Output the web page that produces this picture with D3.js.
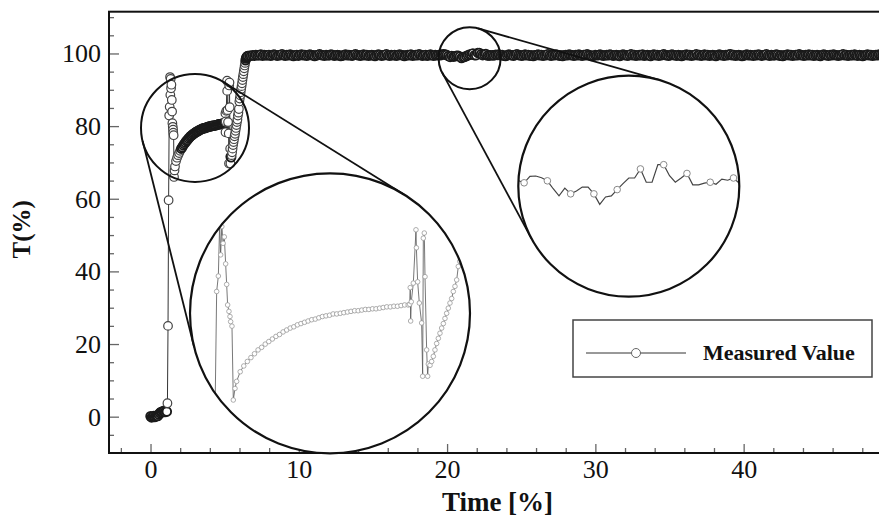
<!DOCTYPE html>
<html>
<head>
<meta charset="utf-8">
<script src="https://cdn.jsdelivr.net/npm/d3@7"></script>
<style>
  html, body { margin: 0; padding: 0; background: #fff; overflow: hidden; }
  svg { display: block; font-family: 'Liberation Serif', 'Times New Roman', serif; }
</style>
</head>
<body>
<svg id="chart" width="879" height="517"></svg>
<script>
/* irregular start: flat, first rise, spikes, recovery curve, spikes, second rise */
const earlyTime = [
  0.00, 0.07, 0.14, 0.21, 0.28, 0.35, 0.42, 0.49, 0.56, 0.63, 0.70, 0.77, 0.84, 0.91, 0.98, 1.05,
  1.10, 1.14, 1.18, 1.22,
  1.259, 1.292, 1.318, 1.337, 1.36, 1.385, 1.409, 1.435, 1.455, 1.474, 1.50, 1.52, 1.533, 1.559, 1.585, 1.618,
  1.65, 1.72, 1.79, 1.86, 1.93, 2.00, 2.07, 2.14, 2.21, 2.28, 2.35, 2.42, 2.49, 2.56, 2.63, 2.70,
  2.77, 2.84, 2.91, 2.98, 3.05, 3.12, 3.19, 3.26, 3.33, 3.40, 3.47, 3.54, 3.61, 3.68, 3.75, 3.82,
  3.89, 3.96, 4.03, 4.10, 4.17, 4.24, 4.31, 4.38, 4.45, 4.52, 4.59, 4.66, 4.73, 4.80, 4.87, 4.94, 5.01,
  5.04, 5.05, 5.058, 5.07, 5.11, 5.162, 5.17, 5.195, 5.228, 5.273, 5.293, 5.306, 5.325, 5.339, 5.371, 5.391, 5.404,
  5.437, 5.469, 5.502, 5.534, 5.567, 5.60, 5.632, 5.665, 5.698, 5.73, 5.763, 5.795, 5.828, 5.861, 5.893, 5.926,
  5.959, 5.991, 6.02, 6.05, 6.08, 6.11, 6.14, 6.17, 6.20, 6.23, 6.26, 6.29, 6.32, 6.35, 6.38, 6.41, 6.44, 6.47, 6.50, 6.53,
];
const earlyT = [
  0.1, -0.2, 0.0, 0.2, -0.1, 0.1, 0.3, 0.2, 0.6, 1.0, 1.3, 1.2, 1.5, 1.6, 1.3, 1.6,
  1.4, 3.7, 25.0, 59.6,
  82.9, 85.3, 93.5, 88.6, 93.0, 90.4, 91.4, 87.2, 84.0, 80.8, 79.8, 79.0, 78.2, 77.5, 66.0, 67.8,
  68.9, 70.4, 71.3, 72.0, 72.6, 73.2, 73.8, 74.2, 74.7, 75.1, 75.5, 75.9, 76.2, 76.6, 76.9, 77.2,
  77.4, 77.7, 77.9, 78.1, 78.3, 78.5, 78.6, 78.8, 79.0, 79.1, 79.2, 79.4, 79.4, 79.5, 79.6, 79.7,
  79.8, 79.9, 79.9, 80.0, 80.1, 80.1, 80.2, 80.2, 80.3, 80.4, 80.5, 80.5, 80.6, 80.6, 80.7, 80.8, 80.8,
  80.9, 83.5, 78.3, 81.3, 84.2, 92.5, 89.7, 84.4, 81.1, 78.0, 69.7, 91.2, 92.0, 85.2, 73.8, 69.7, 71.6,
  71.4, 72.0, 72.8, 73.8, 74.8, 75.6, 76.4, 77.2, 77.9, 78.7, 79.5, 80.3, 81.1, 81.8, 82.9, 83.7,
  84.7, 86.8, 87.6, 88.5, 89.3, 90.2, 91.0, 91.8, 92.7, 93.5, 94.3, 95.1, 95.9, 96.7, 97.4, 98.1, 98.6, 98.9, 99.1, 99.2,
];

/* plateau, one reading every plateauStep from plateauStart */
const plateauStart = 6.56;
const plateauStep = 0.11;
const plateauT = [
  99.3, 99.4, 99.4, 99.5, 99.4, 99.6, 99.5, 99.5, 99.7, 99.4, 99.6, 99.5,
  99.5, 99.6, 99.4, 99.5, 99.7, 99.6, 99.4, 99.5, 99.6, 99.8, 99.5, 99.4,
  99.6, 99.5, 99.7, 99.5, 99.3, 99.5, 99.6, 99.4, 99.6, 99.7, 99.5, 99.6,
  99.4, 99.5, 99.7, 99.6, 99.5, 99.3, 99.5, 99.6, 99.8, 99.6, 99.5, 99.4,
  99.6, 99.5, 99.5, 99.7, 99.6, 99.4, 99.5, 99.6, 99.5, 99.3, 99.4, 99.6,
  99.7, 99.5, 99.6, 99.5, 99.4, 99.6, 99.8, 99.6, 99.5, 99.4, 99.5, 99.7,
  99.5, 99.6, 99.4, 99.5, 99.6, 99.5, 99.3, 99.5, 99.7, 99.6, 99.4, 99.5,
  99.6, 99.8, 99.5, 99.4, 99.6, 99.5, 99.6, 99.4, 99.5, 99.7, 99.6, 99.5,
  99.3, 99.5, 99.6, 99.5, 99.7, 99.4, 99.5, 99.6, 99.5, 99.8, 99.6, 99.4,
  99.5, 99.6, 99.4, 99.5, 99.7, 99.5, 99.4, 99.6, 99.5, 99.6,
  99.52, 99.75, 99.76, 99.70, 99.59, 99.31, 99.06, 99.33, 99.13, 99.23, 99.37, 99.37,
  99.13, 98.76, 99.02, 99.06, 99.28, 99.49, 99.69, 99.69, 100.01, 99.54, 99.54, 100.16,
  100.16, 99.77, 99.54, 99.69, 99.85, 99.45, 99.45, 99.51, 99.54, 99.47, 99.65, 99.61, 99.69,
  99.5, 99.6, 99.4, 99.3, 99.5, 99.7, 99.6, 99.5, 99.4, 99.6, 99.8, 99.6,
  99.5, 99.4, 99.5, 99.7, 99.5, 99.6, 99.4, 99.5, 99.3, 99.5, 99.6, 99.7,
  99.5, 99.6, 99.4, 99.5, 99.6, 99.8, 99.5, 99.4, 99.6, 99.5, 99.7, 99.6,
  99.4, 99.5, 99.3, 99.5, 99.6, 99.5, 99.7, 99.6, 99.5, 99.4, 99.6, 99.5,
  99.7, 99.5, 99.4, 99.6, 99.5, 99.8, 99.6, 99.5, 99.3, 99.4, 99.6, 99.5,
  99.6, 99.7, 99.5, 99.4, 99.5, 99.6, 99.5, 99.7, 99.6, 99.4, 99.5, 99.6,
  99.5, 99.3, 99.5, 99.7, 99.6, 99.5, 99.4, 99.6, 99.8, 99.5, 99.6, 99.4,
  99.5, 99.6, 99.5, 99.7, 99.4, 99.5, 99.6, 99.5, 99.3, 99.6, 99.7, 99.5,
  99.6, 99.4, 99.5, 99.6, 99.8, 99.6, 99.5, 99.4, 99.5, 99.7, 99.6, 99.5,
  99.4, 99.6, 99.5, 99.3, 99.5, 99.6, 99.7, 99.5, 99.6, 99.4, 99.5, 99.6,
  99.8, 99.5, 99.6, 99.4, 99.5, 99.7, 99.5, 99.6, 99.4, 99.5, 99.6, 99.5,
  99.3, 99.5, 99.7, 99.6, 99.5, 99.4, 99.6, 99.5, 99.7, 99.8, 99.5, 99.6,
  99.4, 99.5, 99.6, 99.5, 99.3, 99.4, 99.6, 99.7, 99.5, 99.6, 99.5, 99.4,
  99.6, 99.5, 99.7, 99.6, 99.4, 99.5, 99.6, 99.8, 99.5, 99.4, 99.6, 99.5,
  99.5, 99.7, 99.6, 99.4, 99.5, 99.3, 99.5, 99.6, 99.7, 99.5, 99.6, 99.4,
  99.5, 99.6, 99.5, 99.8, 99.6, 99.5, 99.4, 99.6, 99.5, 99.7, 99.5, 99.6,
  99.4, 99.5, 99.6, 99.5, 99.3, 99.5, 99.7, 99.6, 99.5, 99.4, 99.6, 99.5,
  99.7, 99.6, 99.5, 99.4, 99.5, 99.6, 99.8, 99.5, 99.6, 99.4, 99.5, 99.6,
  99.5, 99.7, 99.5, 99.4, 99.6, 99.5, 99.3, 99.5, 99.6, 99.7, 99.5, 99.6,
  99.4, 99.5, 99.6, 99.5, 99.7, 99.6, 99.5, 99.4,
];

const xMajor = [0, 10, 20, 30, 40];
const yMajor = [0, 20, 40, 60, 80, 100];
const xLabel = 'Time [%]';
const yLabel = 'T(%)';
const seriesName = 'Measured Value';

/* magnifier lenses: small circle on the data, big circle showing a close-up */
const lens1 = { x: 3.0, y: 79.5, r: 54 };
const view1 = { cx: 330, cy: 313.3, r: 140, xDomain: [0.737, 6.22], yDomain: [57.7, 101.3] };
const lens2 = { x: 21.52, y: 98.7, r: 31 };
const view2 = { cx: 628.8, cy: 186.2, r: 110.5, xDomain: [19.43, 23.61], yDomain: [95.5, 103.3] };

const points = earlyTime.map((t, i) => ({ t, v: earlyT[i], i }))
  .concat(plateauT.map((v, i) => ({ t: plateauStart + i * plateauStep, v, i: earlyTime.length + i })));

const plot = { left: 109, top: 11.7, right: 886, bottom: 453 };
const x = d3.scaleLinear().domain([-2.8, 49.6]).range([plot.left, plot.right]);
const y = d3.scaleLinear().domain([-10, 111.5]).range([plot.bottom, plot.top]);

const svg = d3.select('#chart');
svg.append('rect').attr('width', 879).attr('height', 517).attr('fill', '#fff');

svg.append('defs').append('clipPath').attr('id', 'plot-clip')
  .append('rect')
  .attr('x', plot.left).attr('y', plot.top)
  .attr('width', plot.right - plot.left).attr('height', plot.bottom - plot.top);

/* axes with inward ticks */
const tickColor = '#666';
function styleAxis(g) {
  g.select('.domain').remove();
  g.attr('font-family', null);
  g.selectAll('.tick line').attr('stroke', tickColor).attr('stroke-width', 1.3);
  g.selectAll('.tick text').attr('fill', '#111').style('font-size', '26px')
    .style('font-family', "'Liberation Serif', 'Times New Roman', serif");
}
svg.append('g').attr('transform', `translate(0,${plot.bottom})`)
  .call(d3.axisBottom(x).tickValues(d3.range(-2, 50, 2).filter((d) => d % 10 !== 0)).tickSize(-5).tickFormat(''))
  .call(styleAxis);
svg.append('g').attr('transform', `translate(0,${plot.bottom})`)
  .call(d3.axisBottom(x).tickValues(xMajor).tickSize(-9).tickPadding(7))
  .call(styleAxis);
svg.append('g').attr('transform', `translate(${plot.left},0)`)
  .call(d3.axisLeft(y).tickValues(d3.range(-5, 111, 5).filter((d) => d % 20 !== 0)).tickSize(-5).tickFormat(''))
  .call(styleAxis);
svg.append('g').attr('transform', `translate(${plot.left},0)`)
  .call(d3.axisLeft(y).tickValues(yMajor).tickSize(-10).tickPadding(8))
  .call(styleAxis);

svg.append('rect')
  .attr('x', plot.left).attr('y', plot.top)
  .attr('width', plot.right - plot.left).attr('height', plot.bottom - plot.top)
  .attr('fill', 'none').attr('stroke', '#111').attr('stroke-width', 2);

/* axis titles */
svg.append('text')
  .attr('x', (plot.left + plot.right) / 2).attr('y', 511)
  .attr('text-anchor', 'middle').attr('font-weight', 'bold').attr('font-size', 27)
  .attr('fill', '#111')
  .text(xLabel);
svg.append('text')
  .attr('transform', `translate(30,${(plot.top + plot.bottom) / 2 - 3}) rotate(-90)`)
  .attr('text-anchor', 'middle').attr('font-weight', 'bold').attr('font-size', 25)
  .attr('fill', '#111')
  .text(yLabel);

/* series: line plus hollow markers (optionally every n-th point only).
   Where markers crowd together (screen gap below opt.dense px) they get a
   heavier stroke so the packed runs read as a solid band. */
function drawSeries(g, sx, sy, opt) {
  const line = d3.line().x((d) => sx(d.t)).y((d) => sy(d.v));
  g.append('path').datum(points)
    .attr('d', line)
    .attr('fill', 'none').attr('stroke', opt.lineColor).attr('stroke-width', opt.lineWidth);
  const gap = (a, b) => (a && b ? Math.hypot(sx(a.t) - sx(b.t), sy(a.v) - sy(b.v)) : Infinity);
  const crowded = (d) => opt.dense
    && Math.min(gap(d, points[d.i - 1]), gap(d, points[d.i + 1])) < opt.dense;
  g.selectAll('circle').data(points.filter((d) => d.i % opt.skip === opt.skipOffset))
    .join('circle')
    .attr('cx', (d) => sx(d.t)).attr('cy', (d) => sy(d.v)).attr('r', opt.r)
    .attr('fill', '#fff')
    .attr('stroke', (d) => (crowded(d) ? opt.denseColor : opt.markerColor))
    .attr('stroke-width', (d) => (crowded(d) ? opt.denseWidth : opt.markerWidth));
}

const mainG = svg.append('g').attr('clip-path', 'url(#plot-clip)');
drawSeries(mainG, x, y, {
  lineColor: '#333', lineWidth: 1, r: 4.3, markerColor: '#444', markerWidth: 1.2,
  dense: 2.2, denseColor: '#1a1a1a', denseWidth: 1.9, skip: 1, skipOffset: 0,
});

/* magnifiers */
function outerTangents(a, b) {
  const base = Math.atan2(b.y - a.y, b.x - a.x);
  const d = Math.hypot(b.x - a.x, b.y - a.y);
  const off = Math.acos((a.r - b.r) / d);
  return [base + off, base - off].map((ang) => [
    [a.x + a.r * Math.cos(ang), a.y + a.r * Math.sin(ang)],
    [b.x + b.r * Math.cos(ang), b.y + b.r * Math.sin(ang)],
  ]);
}

function magnifier(lens, view, id, style) {
  const small = { x: x(lens.x), y: y(lens.y), r: lens.r };
  const big = { x: view.cx, y: view.cy, r: view.r };

  svg.append('circle')
    .attr('cx', small.x).attr('cy', small.y).attr('r', small.r)
    .attr('fill', 'none').attr('stroke', '#111').attr('stroke-width', 2);

  outerTangents(small, big).forEach((seg) => {
    svg.append('line')
      .attr('x1', seg[0][0]).attr('y1', seg[0][1])
      .attr('x2', seg[1][0]).attr('y2', seg[1][1])
      .attr('stroke', '#111').attr('stroke-width', 1.8);
  });

  svg.append('clipPath').attr('id', id)
    .append('circle').attr('cx', big.x).attr('cy', big.y).attr('r', big.r);

  svg.append('circle')
    .attr('cx', big.x).attr('cy', big.y).attr('r', big.r)
    .attr('fill', '#fff');

  const sx = d3.scaleLinear().domain(view.xDomain).range([big.x - big.r, big.x + big.r]);
  const sy = d3.scaleLinear().domain(view.yDomain).range([big.y + big.r, big.y - big.r]);
  const g = svg.append('g').attr('clip-path', `url(#${id})`);
  drawSeries(g, sx, sy, style);

  svg.append('circle')
    .attr('cx', big.x).attr('cy', big.y).attr('r', big.r)
    .attr('fill', 'none').attr('stroke', '#111').attr('stroke-width', 2.2);
}

magnifier(lens1, view1, 'lens1-clip', {
  lineColor: '#555', lineWidth: 0.8, r: 2.3, markerColor: '#999', markerWidth: 0.8, skip: 1, skipOffset: 0,
});
magnifier(lens2, view2, 'lens2-clip', {
  lineColor: '#444', lineWidth: 1.2, r: 3.3, markerColor: '#888', markerWidth: 1,
  skip: 4, skipOffset: (earlyTime.length + 118) % 4,
});

/* legend */
const legend = svg.append('g').attr('transform', 'translate(573,320)');
legend.append('rect').attr('width', 299).attr('height', 57)
  .attr('fill', '#fff').attr('stroke', '#444').attr('stroke-width', 1.5);
legend.append('line').attr('x1', 13).attr('x2', 113).attr('y1', 33).attr('y2', 33)
  .attr('stroke', '#333').attr('stroke-width', 1);
legend.append('circle').attr('cx', 63).attr('cy', 33).attr('r', 4.5)
  .attr('fill', '#fff').attr('stroke', '#666').attr('stroke-width', 1);
legend.append('text').attr('x', 130).attr('y', 40)
  .attr('font-weight', 'bold').attr('font-size', 22).attr('fill', '#111')
  .text(seriesName);
</script>
</body>
</html>
